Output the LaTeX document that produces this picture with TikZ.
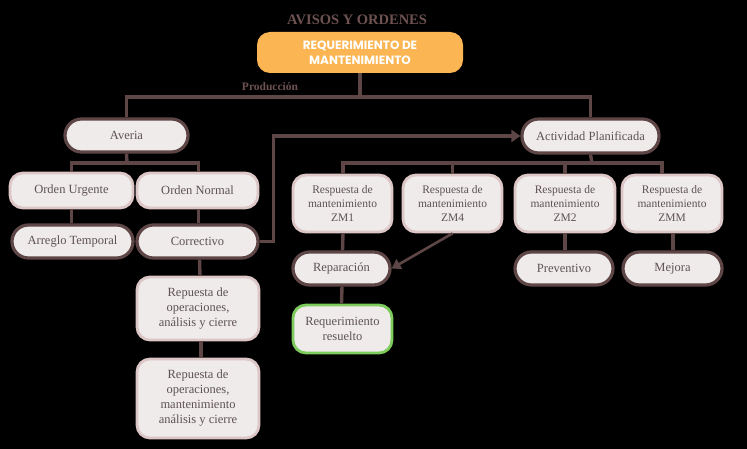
\documentclass[tikz,border=0pt]{standalone}
\usepackage{fontspec}
\setmainfont{Liberation Serif}
\newfontfamily\pop{Poppins}
\usetikzlibrary{arrows.meta}
\definecolor{brd}{HTML}{5E4646}
\definecolor{pinkb}{HTML}{DCC6C6}
\definecolor{fillc}{HTML}{EFEBEB}
\definecolor{txt}{HTML}{5E5252}
\definecolor{orng}{HTML}{FBB552}
\definecolor{ttl}{HTML}{6E5252}
\definecolor{grn}{HTML}{7DCB5C}
\newcommand{\fsz}[2]{\fontsize{#1bp}{#2bp}\selectfont}
\tikzset{
  box/.style={fill=fillc, text=txt, line width=2.8bp, inner sep=0pt, align=center, anchor=center},
  darkbox/.style={box, draw=brd, line width=3.2bp, rounded corners=16.5bp, font=\fsz{12.5}{14}},
  lightbox/.style={box, draw=pinkb, rounded corners=13bp, font=\fsz{12.5}{14}},
  smallbox/.style={box, draw=pinkb, rounded corners=13bp, font=\fsz{11.5}{14}},
  conn/.style={draw=brd, line width=3.4bp},
}
\begin{document}
\begin{tikzpicture}[x=1bp,y=-1bp]
\fill[black] (0,0) rectangle (747,449);
\useasboundingbox (0,0) rectangle (747,449);

\node[font=\fsz{14.5}{16}\bfseries, text=ttl] (title) at (357,20) {AVISOS Y ORDENES};
\node[fill=orng, rounded corners=13bp, minimum width=206bp, minimum height=41bp, inner sep=0pt,
      text=white, align=center, font=\pop\bfseries\fsz{12}{15}] (top) at (360,52.5) {REQUERIMIENTO DE\\MANTENIMIENTO};

\node[darkbox, minimum width=123bp, minimum height=33bp] (averia) at (126.5,135.5) {Averia};
\node[darkbox, minimum width=137bp, minimum height=34bp] (activ) at (590.5,136) {Actividad Planificada};

\node[lightbox, minimum width=123bp, minimum height=35bp] (urg) at (71.5,190.5) {Orden Urgente};
\node[lightbox, minimum width=121bp, minimum height=35bp] (norm) at (197.5,190.5) {Orden Normal};
\node[darkbox, minimum width=121bp, minimum height=33bp] (arreglo) at (72.5,241.5) {Arreglo Temporal};
\node[darkbox, minimum width=121bp, minimum height=33bp] (correct) at (197.5,241.5) {Correctivo};
\node[lightbox, minimum width=122bp, minimum height=63bp, font=\fsz{12.5}{15}] (box3) at (198,308.5) {Repuesta de\\operaciones,\\análisis y cierre};
\node[lightbox, minimum width=122bp, minimum height=79bp, font=\fsz{12.5}{15}] (box4) at (198,398.5) {Repuesta de\\operaciones,\\mantenimiento\\análisis y cierre};

\node[smallbox, minimum width=99bp, minimum height=57bp] (zm1) at (342.5,203.5) {Respuesta de\\mantenimiento\\ZM1};
\node[smallbox, minimum width=99bp, minimum height=57bp] (zm4) at (452.5,203.5) {Respuesta de\\mantenimiento\\ZM4};
\node[smallbox, minimum width=100bp, minimum height=57bp] (zm2) at (565,203.5) {Respuesta de\\mantenimiento\\ZM2};
\node[smallbox, minimum width=100bp, minimum height=57bp] (zmm) at (672,203.5) {Respuesta de\\mantenimiento\\ZMM};

\node[darkbox, minimum width=97bp, minimum height=33bp] (rep) at (341.5,268.5) {Reparación};
\node[darkbox, minimum width=98bp, minimum height=33bp] (prev) at (564,268.5) {Preventivo};
\node[darkbox, minimum width=99bp, minimum height=33bp] (mejora) at (672.5,268.5) {Mejora};
\node[box, draw=grn, rounded corners=13bp, font=\fsz{12.5}{15}, minimum width=99bp, minimum height=48bp] (res) at (342.5,329) {Requerimiento\\resuelto};

\node[font=\fsz{11.5}{12}\bfseries, text=ttl] (prod) at (270,87) {Producción};

% top bus
\coordinate (b1) at (360,97);
\draw[conn] (top.south) -- (b1);
\draw[conn] (averia.north) |- (b1) -| (activ.north);

% averia fork
\coordinate (f1) at (127,163);
\draw[conn] (averia.south) -- (f1);
\draw[conn] (urg.north) |- (f1) -| ([xshift=1bp]norm.north);
\draw[conn] (urg.south) -- (arreglo.north -| urg.south);
\draw[conn] ([xshift=1bp]norm.south) -- ([xshift=1bp]correct.north);
\draw[conn] ([xshift=2bp]correct.south) -- ([xshift=2bp]box3.north);
\draw[conn] ([xshift=3bp]box3.south) -- ([xshift=3bp]box4.north);

% correctivo to actividad
\draw[conn, -{Triangle[length=9bp,width=12bp]}] (correct.east) -- ++(14,0) |- (activ.west);

% actividad fork
\coordinate (f2) at (592,163);
\draw[conn] (activ.south) -- (f2);
\draw[conn] ([xshift=0.5bp]zm1.north) |- (f2) -| ([xshift=-10bp]zmm.north);
\draw[conn] (zm4.north) -- (zm4.north |- f2);
\draw[conn] (zm2.north) -- (zm2.north |- f2);

\draw[conn] ([xshift=0.5bp]zm1.south) -- (rep.north -| zm1.south);
\draw[conn] ([xshift=0.5bp]rep.south) -- (res.north -| rep.south);
\draw[conn] (zm2.south) -- (prev.north -| zm2.south);
\draw[conn] ([xshift=1bp]zmm.south) -- ([xshift=1bp]mejora.north -| zmm.south);
\draw[draw=brd, line width=2.6bp, -{Triangle[length=9bp,width=11bp]}] (zm4.south) -- (rep.east);
\end{tikzpicture}
\end{document}
